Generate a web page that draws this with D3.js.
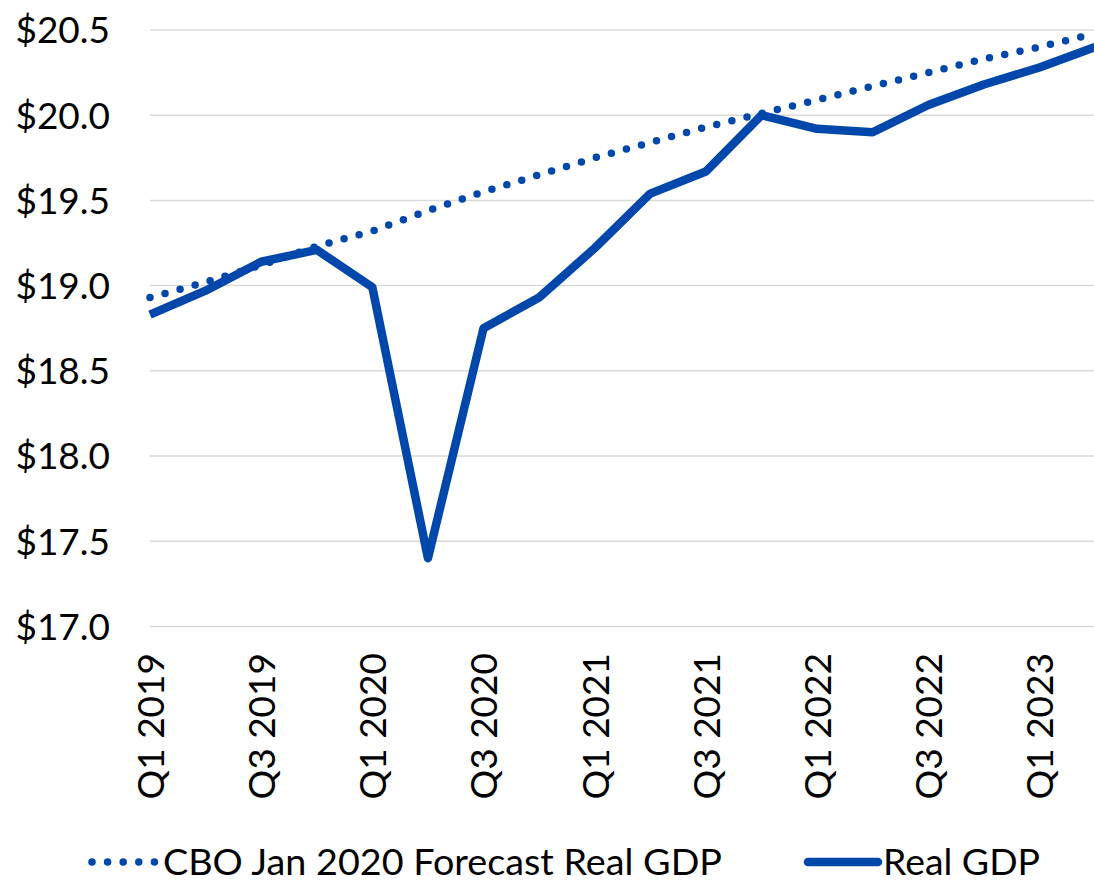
<!DOCTYPE html>
<html>
<head>
<meta charset="utf-8">
<script src="https://cdn.jsdelivr.net/npm/d3@7"></script>
<style>
  html, body { margin: 0; padding: 0; background: #fff; }
  svg { display: block; font-family: Lato, "Liberation Sans", sans-serif; }
</style>
</head>
<body>
<script>
// quarters on the x axis
var quarters = ["Q1 2019", "Q2 2019", "Q3 2019", "Q4 2019",
                "Q1 2020", "Q2 2020", "Q3 2020", "Q4 2020",
                "Q1 2021", "Q2 2021", "Q3 2021", "Q4 2021",
                "Q1 2022", "Q2 2022", "Q3 2022", "Q4 2022",
                "Q1 2023", "Q2 2023"];

// trillions of dollars
var realGdp = [18.83, 18.97, 19.14, 19.21, 18.99, 17.40, 18.75, 18.93,
               19.22, 19.54, 19.67, 20.00, 19.92, 19.90, 20.06, 20.18,
               20.28, 20.40];
var cboForecast = [18.93, 19.02, 19.12, 19.23, 19.32, 19.44, 19.55, 19.65,
                   19.75, 19.84, 19.93, 20.01, 20.09, 20.17, 20.25, 20.33,
                   20.40, 20.48];

var yTicks = [17.0, 17.5, 18.0, 18.5, 19.0, 19.5, 20.0, 20.5];
var seriesNames = ["CBO Jan 2020 Forecast Real GDP", "Real GDP"];

var width = 1094;
var height = 885;
var blue = "#0047ab";

var svg = d3.select("body").append("svg")
    .attr("width", width)
    .attr("height", height);

var x = d3.scalePoint().domain(quarters).range([150, 1095]);
var y = d3.scaleLinear().domain([17, 20.5]).range([626.4, 30]);

// gridlines
svg.append("g")
    .selectAll("line")
    .data(yTicks)
    .enter().append("line")
    .attr("x1", 150).attr("x2", width)
    .attr("y1", function (d) { return y(d); })
    .attr("y2", function (d) { return y(d); })
    .attr("stroke", "#d9d9d9")
    .attr("stroke-width", 1.5);

// y axis labels
var yAxis = svg.append("g")
    .attr("transform", "translate(110,0)")
    .call(d3.axisLeft(y).tickValues(yTicks).tickSize(0).tickPadding(0)
        .tickFormat(function (d) { return "$" + d3.format(".1f")(d); }));
yAxis.select(".domain").remove();
yAxis.selectAll("text")
    .attr("font-family", "Lato, sans-serif")
    .attr("font-size", 37)
    .attr("fill", "#000")
    .attr("dy", "0.35em");

// x axis labels, every other quarter, rotated
var xAxis = svg.append("g")
    .attr("transform", "translate(0,653)")
    .call(d3.axisBottom(x)
        .tickValues(quarters.filter(function (d, i) { return i % 2 === 0; }))
        .tickSize(0).tickPadding(0));
xAxis.select(".domain").remove();
xAxis.selectAll("text")
    .attr("font-family", "Lato, sans-serif")
    .attr("font-size", 37)
    .attr("fill", "#000")
    .attr("transform", "rotate(-90)")
    .attr("text-anchor", "end")
    .attr("x", 0)
    .attr("y", 0)
    .attr("dy", "0.36em");

var line = d3.line()
    .x(function (d, i) { return x(quarters[i]); })
    .y(function (d) { return y(d); });

// forecast, dotted
svg.append("path")
    .datum(cboForecast)
    .attr("d", line)
    .attr("fill", "none")
    .attr("stroke", blue)
    .attr("stroke-width", 7.5)
    .attr("stroke-linecap", "round")
    .attr("stroke-dasharray", "0 15.6");

// actual, solid
svg.append("path")
    .datum(realGdp)
    .attr("d", line)
    .attr("fill", "none")
    .attr("stroke", blue)
    .attr("stroke-width", 8.5)
    .attr("stroke-linejoin", "round");

// legend
var legendY = 862;
var leg = svg.append("g");

leg.append("line")
    .attr("x1", 92).attr("x2", 158)
    .attr("y1", legendY).attr("y2", legendY)
    .attr("stroke", blue)
    .attr("stroke-width", 7.5)
    .attr("stroke-linecap", "round")
    .attr("stroke-dasharray", "0 15.6");
leg.append("text")
    .attr("x", 163).attr("y", legendY)
    .attr("dy", "0.35em")
    .attr("font-size", 37)
    .attr("textLength", 559)
    .attr("lengthAdjust", "spacingAndGlyphs")
    .text(seriesNames[0]);

leg.append("line")
    .attr("x1", 808).attr("x2", 878)
    .attr("y1", legendY).attr("y2", legendY)
    .attr("stroke", blue)
    .attr("stroke-width", 8.5)
    .attr("stroke-linecap", "round");
leg.append("text")
    .attr("x", 883).attr("y", legendY)
    .attr("dy", "0.35em")
    .attr("font-size", 37)
    .attr("textLength", 157)
    .attr("lengthAdjust", "spacingAndGlyphs")
    .text(seriesNames[1]);
</script>
</body>
</html>
